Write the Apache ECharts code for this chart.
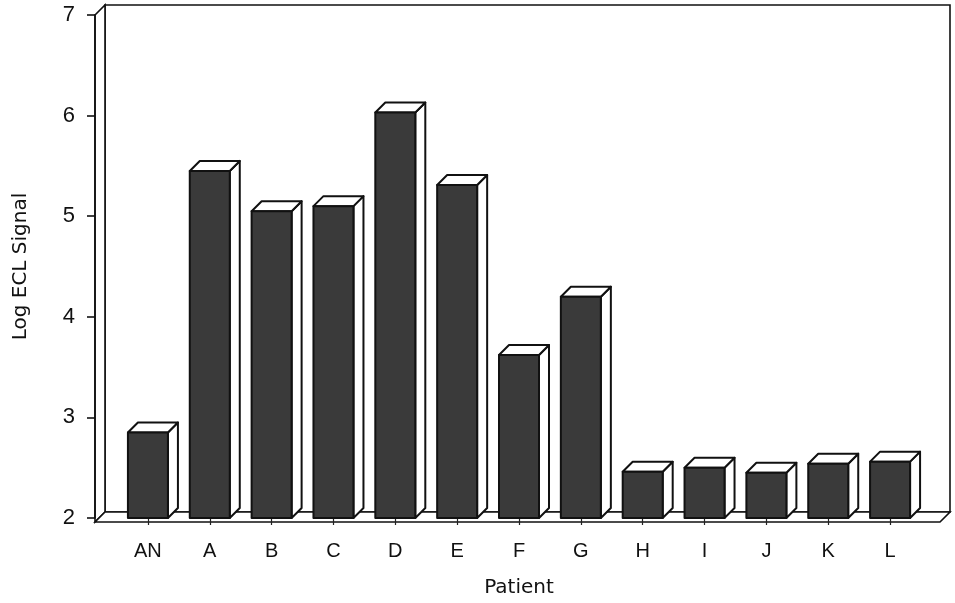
<!DOCTYPE html>
<html><head><meta charset="utf-8">
<script src="https://cdn.jsdelivr.net/npm/echarts@6/dist/echarts.min.js"></script>
<style>html,body{margin:0;padding:0;background:#fff}#c{width:955px;height:603px}</style>
</head><body><div id="c"></div>
<script>
var categories = ['AN','A','B','C','D','E','F','G','H','I','J','K','L'];
var values = [2.85, 5.45, 5.05, 5.10, 6.03, 5.31, 3.62, 4.20, 2.46, 2.50, 2.45, 2.54, 2.56];
var yTicks = [2,3,4,5,6,7];

var chart = echarts.init(document.getElementById('c'));
var D = 10;        // 3D depth in px
var HALF = 20;     // half front width
var GL = 117, GR = 34, GT = 15, GB = 81;
var W = 955, H = 603;
var wallX = GL - 22, floorY = H - GB, topY = GT;
var rightX = W - GR + 19;
var LW = 1.6, BLW = 2;
var FONT = 'Liberation Sans';
var NAMEFONT = 'DejaVu Sans';

function renderBar(params, api) {
  var top = api.coord([api.value(0), api.value(1)]);
  var base = api.coord([api.value(0), yTicks[0]]);
  var x0 = top[0] - HALF, x1 = top[0] + HALF, yT = top[1], yB = base[1];
  var st = {stroke:'#111', lineWidth:BLW, lineJoin:'round'};
  return {type:'group', children:[
    {type:'polygon', shape:{points:[[x1,yT],[x1+D,yT-D],[x1+D,yB-D],[x1,yB]]}, style:Object.assign({fill:'#fff'},st)},
    {type:'polygon', shape:{points:[[x0,yT],[x0+D,yT-D],[x1+D,yT-D],[x1,yT]]}, style:Object.assign({fill:'#fff'},st)},
    {type:'rect', shape:{x:x0,y:yT,width:x1-x0,height:yB-yT}, style:Object.assign({fill:'#3a3a3a'},st)}
  ]};
}

var frameStyle = {stroke:'#111', lineWidth:LW, fill:'#fff'};
chart.setOption({
  animation:false,
  backgroundColor:'#fff',
  grid:{left:GL, right:GR, top:GT, bottom:GB},
  graphic:[
    {type:'polygon', z:-10, shape:{points:[[wallX+D,topY-D],[rightX+D,topY-D],[rightX+D,floorY-D],[wallX+D,floorY-D]]}, style:frameStyle},
    {type:'polygon', z:-9, shape:{points:[[wallX,topY],[wallX+D,topY-D],[wallX+D,floorY-D],[wallX,floorY]]}, style:frameStyle},
    {type:'polygon', z:-8, shape:{points:[[wallX,floorY],[wallX+D,floorY-D],[rightX+D,floorY-D],[rightX,floorY]]}, style:frameStyle}
  ],
  xAxis:{
    type:'category', data:categories,
    name:'Patient', nameLocation:'middle', nameGap:60,
    nameTextStyle:{fontFamily:NAMEFONT, fontSize:20, color:'#111'},
    axisLine:{show:false},
    axisTick:{show:true, alignWithLabel:true, length:7, lineStyle:{color:'#222', width:1.2}},
    axisLabel:{fontFamily:FONT, fontSize:20, color:'#111', margin:23},
    splitLine:{show:false}
  },
  yAxis:{
    type:'value', min:2, max:7, interval:1, offset:22,
    name:'Log ECL Signal', nameLocation:'middle', nameGap:64,
    nameTextStyle:{fontFamily:NAMEFONT, fontSize:20, color:'#111'},
    axisLine:{show:true, lineStyle:{color:'#111', width:LW}},
    axisTick:{show:true, length:8, lineStyle:{color:'#111', width:LW}},
    axisLabel:{fontFamily:FONT, fontSize:22, color:'#111', margin:20},
    splitLine:{show:false}
  },
  series:[{
    type:'custom', renderItem:renderBar,
    data: categories.map(function(c,i){return [i, values[i]];}),
    encode:{x:0, y:1}, z:5
  }]
});
</script></body></html>
